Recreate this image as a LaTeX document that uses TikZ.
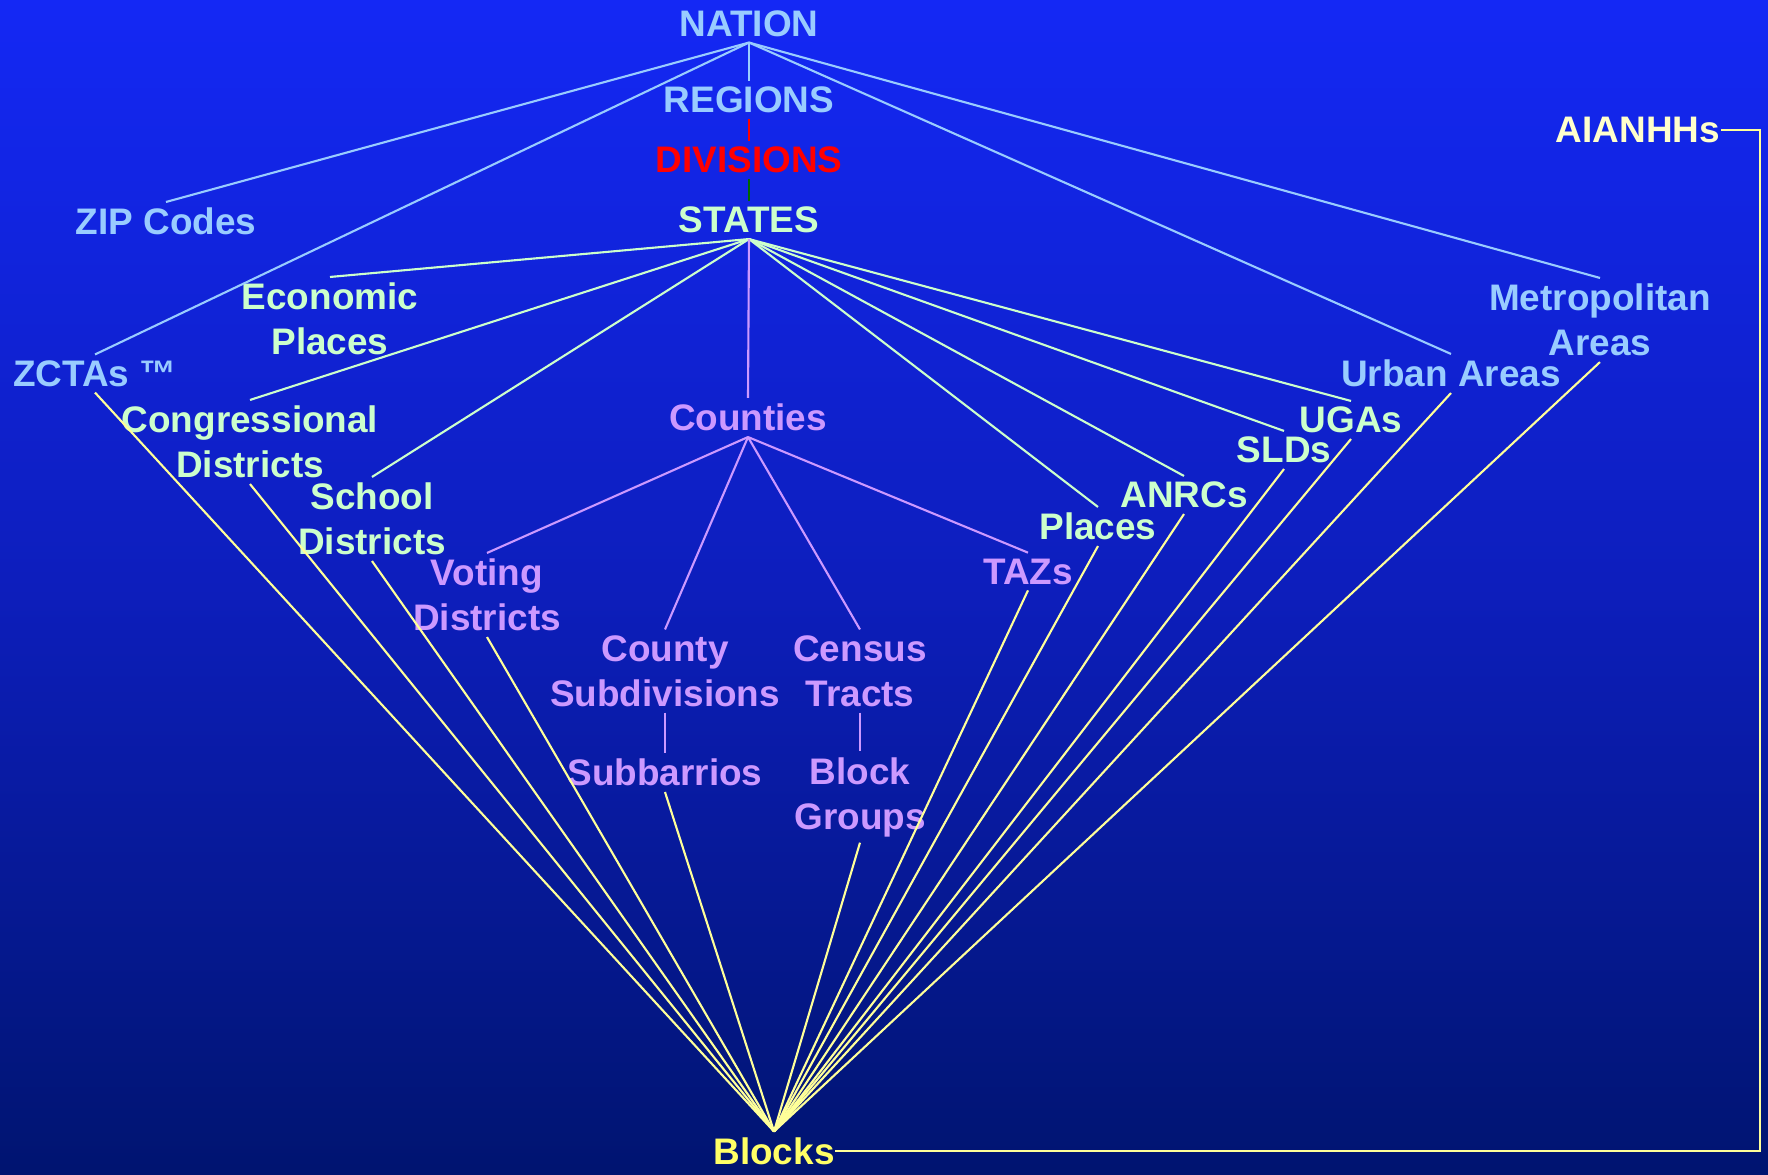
\documentclass[tikz,border=0pt]{standalone}
\usepackage{fontspec}
\setmainfont{Liberation Sans}
\usepackage{xcolor}
\usepackage{tikz}
\usetikzlibrary{calc}
\definecolor{bgtop}{RGB}{20,40,245}
\definecolor{bgmid}{RGB}{13,30,188}
\definecolor{bgbot}{RGB}{0,20,112}
\definecolor{natcolor}{HTML}{99CCFF}
\definecolor{statecolor}{HTML}{CCFFCC}
\definecolor{countycolor}{HTML}{CC99FF}
\definecolor{blockcolor}{HTML}{FFFF66}
\definecolor{aiancolor}{HTML}{FFFFCC}
\definecolor{linkcolor}{HTML}{FFFF99}
\definecolor{divcolor}{HTML}{FF0000}
\definecolor{stemcolor}{HTML}{006600}

\begin{document}
\begin{tikzpicture}[x=0.01cm,y=-0.01cm,
  geo/.style={font=\bfseries\fontsize{10.5}{12.8}\selectfont,align=center,inner xsep=0pt,inner ysep=1.5pt},
  natline/.style={draw=natcolor,line width=0.6pt},
  stateline/.style={draw=statecolor,line width=0.6pt},
  countyline/.style={draw=countycolor,line width=0.6pt},
  blockline/.style={draw=linkcolor,line width=0.6pt}]

    \shade[top color=bgtop,bottom color=bgbot,middle color=bgmid] (0,0) rectangle (1768,1175);

%% top of the hierarchy
    \node[geo,text=natcolor] (nation) at (749,23.5) {NATION};
    \node[geo,text=natcolor] (regions) at (749,100) {REGIONS};
    \node[geo,text=divcolor] (divisions) at (749,160) {DIVISIONS};
    \node[geo,text=statecolor] (states) at (749,220) {STATES};

%% nation level
    \node[geo,text=natcolor] (zip) at (166,221.5) {ZIP Codes};
    \node[geo,text=natcolor] (zcta) at (95,373.5) {ZCTAs ™};
    \node[geo,text=natcolor] (urban) at (1451,373.5) {Urban Areas};
    \node[geo,text=natcolor] (metro) at (1600,320) {Metropolitan\\Areas};
    \node[geo,text=aiancolor] (aianhh) at (1638,130) {AIANHHs};

%% state level
    \node[geo,text=statecolor] (econ) at (330,319) {Economic\\Places};
    \node[geo,text=statecolor] (congress) at (250,442) {Congressional\\Districts};
    \node[geo,text=statecolor] (school) at (372,519) {School\\Districts};
    \node[geo,text=statecolor] (places) at (1098,526.5) {Places};
    \node[geo,text=statecolor] (anrcs) at (1184,495) {ANRCs};
    \node[geo,text=statecolor] (slds) at (1284,450) {SLDs};
    \node[geo,text=statecolor] (ugas) at (1351,420) {UGAs};

%% county level
    \node[geo,text=countycolor] (counties) at (748,417.5) {Counties};
    \node[geo,text=countycolor] (voting) at (487,595) {Voting\\Districts};
    \node[geo,text=countycolor] (cosub) at (665,671) {County\\Subdivisions};
    \node[geo,text=countycolor] (tracts) at (860,671) {Census\\Tracts};
    \node[geo,text=countycolor] (tazs) at (1028,571.5) {TAZs};
    \node[geo,text=countycolor] (subbarrios) at (665,772.5) {Subbarrios};
    \node[geo,text=countycolor] (bgroups) at (860,797) {Block\\Groups};

    \node[geo,text=blockcolor] (blocks) at (774,1151) {Blocks};

%% connectors
\foreach \n in {zip,zcta,regions,urban,metro}
    \draw[natline] (nation.south) -- (\n.north);
    \draw[divcolor,line width=0.6pt] (regions.south) -- (divisions.north);
    \draw[stemcolor,line width=0.6pt] (divisions.south) -- (states.north);
\foreach \n in {econ,congress,school,places,anrcs,slds,ugas}
    \draw[stateline] (states.south) -- (\n.north);
    \draw[countyline] (states.south) -- (counties.north);
\foreach \n in {voting,cosub,tracts,tazs}
    \draw[countyline] (counties.south) -- (\n.north);
    \draw[countyline] (cosub.south) -- (subbarrios.north);
    \draw[countyline] (tracts.south) -- (bgroups.north);
\foreach \n in {zcta,congress,school,voting,subbarrios,bgroups,tazs,places,anrcs,slds,ugas,urban,metro}
    \draw[blockline] (\n.south) -- (blocks.north);

    \coordinate (bend) at (1760,0);
    \draw[blockline] (blocks.east) -| (bend |- aianhh.east) -- (aianhh.east);
\end{tikzpicture}
\end{document}
